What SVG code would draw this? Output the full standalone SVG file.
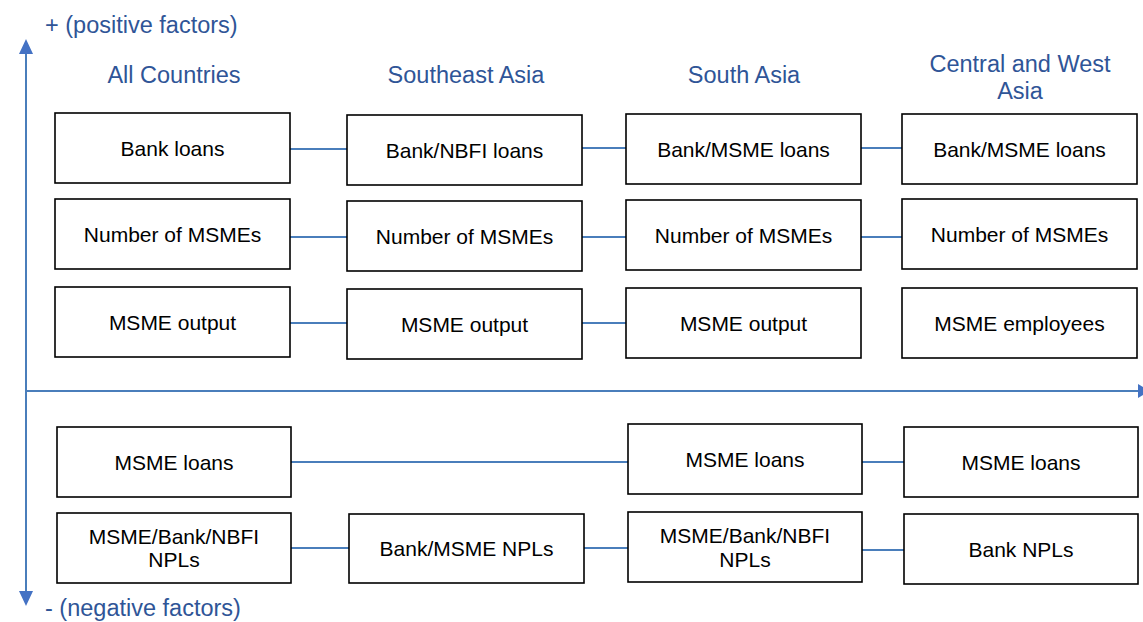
<svg xmlns="http://www.w3.org/2000/svg" width="1143" height="622" viewBox="0 0 1143 622">
<style>
  .box { fill: #ffffff; stroke: #000000; stroke-width: 1.6; }
  .lbl { font-family: "Liberation Sans", Arial, sans-serif; font-size: 21px; fill: #000000; text-anchor: middle; }
  .hdr { font-family: "Liberation Sans", Arial, sans-serif; font-size: 23.5px; fill: #2F5597; text-anchor: middle; }
  .axlbl { font-family: "Liberation Sans", Arial, sans-serif; font-size: 23.5px; fill: #2F5597; }
  .axis { stroke: #4A7EBB; stroke-width: 2; fill: none; }
  .conn { stroke: #4A7EBB; stroke-width: 1.8; fill: none; }
  .head { fill: #4472C4; }
</style>
<rect width="1143" height="622" fill="#ffffff"/>

<g id="axes">
  <line class="axis" x1="26" y1="52" x2="26" y2="592"/>
  <polygon class="head" points="26,39 19,54 33,54"/>
  <polygon class="head" points="26,606 19,591 33,591"/>
  <line class="axis" x1="26" y1="391" x2="1140" y2="391"/>
  <polygon class="head" points="1150,391 1138,384 1138,398"/>
  <text class="axlbl" x="45" y="33">+ (positive factors)</text>
  <text class="axlbl" x="45" y="616">- (negative factors)</text>
</g>

<g id="headers">
  <text class="hdr" x="174" y="83">All Countries</text>
  <text class="hdr" x="466" y="83">Southeast Asia</text>
  <text class="hdr" x="744" y="83">South Asia</text>
  <text class="hdr" x="1020" y="72">Central and West</text>
  <text class="hdr" x="1020" y="99">Asia</text>
</g>

<g id="connectors">
  <line class="conn" x1="290" y1="149" x2="347" y2="149"/>
  <line class="conn" x1="582" y1="148" x2="626" y2="148"/>
  <line class="conn" x1="861" y1="148" x2="902" y2="148"/>
  <line class="conn" x1="290" y1="237" x2="347" y2="237"/>
  <line class="conn" x1="582" y1="237" x2="626" y2="237"/>
  <line class="conn" x1="861" y1="237" x2="902" y2="237"/>
  <line class="conn" x1="290" y1="323" x2="347" y2="323"/>
  <line class="conn" x1="582" y1="323" x2="626" y2="323"/>
  <line class="conn" x1="291" y1="462" x2="628" y2="462"/>
  <line class="conn" x1="862" y1="462" x2="904" y2="462"/>
  <line class="conn" x1="291" y1="548" x2="349" y2="548"/>
  <line class="conn" x1="584" y1="548" x2="628" y2="548"/>
  <line class="conn" x1="862" y1="550" x2="904" y2="550"/>
</g>

<g id="n-all-bank-loans"><rect class="box" x="55" y="113" width="235" height="70"/><text class="lbl" x="172.5" y="156">Bank loans</text></g>
<g id="n-all-number"><rect class="box" x="55" y="199" width="235" height="70"/><text class="lbl" x="172.5" y="242">Number of MSMEs</text></g>
<g id="n-all-output"><rect class="box" x="55" y="287" width="235" height="70"/><text class="lbl" x="172.5" y="330">MSME output</text></g>

<g id="n-sea-loans"><rect class="box" x="347" y="115" width="235" height="70"/><text class="lbl" x="464.5" y="158">Bank/NBFI loans</text></g>
<g id="n-sea-number"><rect class="box" x="347" y="201" width="235" height="70"/><text class="lbl" x="464.5" y="244">Number of MSMEs</text></g>
<g id="n-sea-output"><rect class="box" x="347" y="289" width="235" height="70"/><text class="lbl" x="464.5" y="332">MSME output</text></g>

<g id="n-sa-loans"><rect class="box" x="626" y="114" width="235" height="70"/><text class="lbl" x="743.5" y="157">Bank/MSME loans</text></g>
<g id="n-sa-number"><rect class="box" x="626" y="200" width="235" height="70"/><text class="lbl" x="743.5" y="243">Number of MSMEs</text></g>
<g id="n-sa-output"><rect class="box" x="626" y="288" width="235" height="70"/><text class="lbl" x="743.5" y="331">MSME output</text></g>

<g id="n-cwa-loans"><rect class="box" x="902" y="114" width="235" height="70"/><text class="lbl" x="1019.5" y="157">Bank/MSME loans</text></g>
<g id="n-cwa-number"><rect class="box" x="902" y="199" width="235" height="70"/><text class="lbl" x="1019.5" y="242">Number of MSMEs</text></g>
<g id="n-cwa-employees"><rect class="box" x="902" y="288" width="235" height="70"/><text class="lbl" x="1019.5" y="331">MSME employees</text></g>

<g id="n-all-msme-loans"><rect class="box" x="57" y="427" width="234" height="70"/><text class="lbl" x="174" y="470">MSME loans</text></g>
<g id="n-all-npls"><rect class="box" x="57" y="513" width="234" height="70"/><text class="lbl" x="174" y="544">MSME/Bank/NBFI</text><text class="lbl" x="174" y="567">NPLs</text></g>

<g id="n-sea-npls"><rect class="box" x="349" y="514" width="235" height="69"/><text class="lbl" x="466.5" y="556">Bank/MSME NPLs</text></g>

<g id="n-sa-msme-loans"><rect class="box" x="628" y="424" width="234" height="70"/><text class="lbl" x="745" y="467">MSME loans</text></g>
<g id="n-sa-npls"><rect class="box" x="628" y="512" width="234" height="70"/><text class="lbl" x="745" y="543">MSME/Bank/NBFI</text><text class="lbl" x="745" y="567">NPLs</text></g>

<g id="n-cwa-msme-loans"><rect class="box" x="904" y="427" width="234" height="70"/><text class="lbl" x="1021" y="470">MSME loans</text></g>
<g id="n-cwa-npls"><rect class="box" x="904" y="514" width="234" height="70"/><text class="lbl" x="1021" y="557">Bank NPLs</text></g>
</svg>
